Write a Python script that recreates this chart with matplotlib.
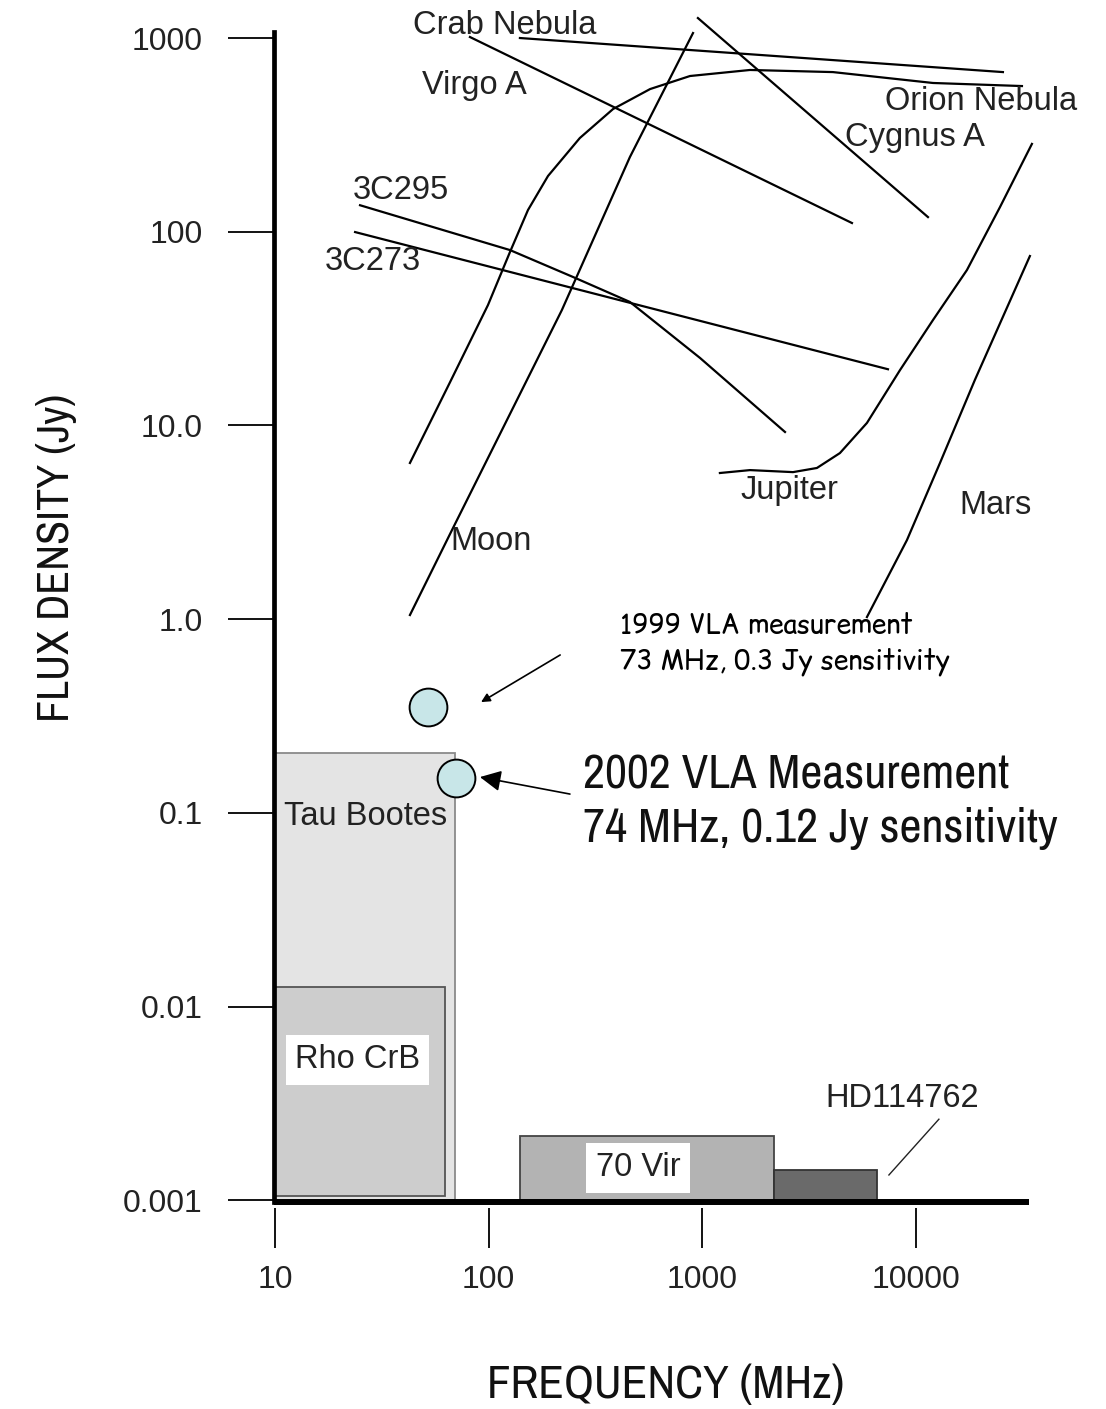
import matplotlib
matplotlib.use('Agg')
import matplotlib.pyplot as plt
from matplotlib.patches import Rectangle
from matplotlib import font_manager as fm

# ---------------- data (frequency in MHz, flux density in Jy) ----------------
orion_f = [42.8, 65.9, 99.2, 125.8, 152.7, 189.5, 267, 382, 569, 875, 1671, 4083, 12000, 31300]
orion_s = [6.40, 16.7, 41.8, 78.6, 129.4, 194, 304.6, 430, 545, 636.6, 684, 667, 586, 565]
moon_f = [42.8, 67.3, 220, 458, 904]
moon_s = [1.05, 2.88, 39.4, 243, 1061]
c295_f = [25.0, 125.8, 248, 458, 975, 2436]
c295_s = [137, 80.4, 58.4, 43.4, 22.3, 9.25]
c273_f = [23.7, 7388]
c273_s = [99.6, 19.5]
crab_f = [140, 25500]
crab_s = [1000, 667]
virgo_f = [81.7, 5012]
virgo_s = [1012, 110.9]
cyg_f = [953, 11370]
cyg_s = [1268, 119]
jup_f = [1208, 1671, 2655, 3436, 4403, 5890, 8410, 12000, 17300, 24700, 34850]
jup_s = [5.68, 5.88, 5.74, 6.03, 7.20, 10.3, 19.3, 35.0, 63.4, 134, 284]
mars_f = [5890, 9066, 12940, 18860, 34100]
mars_s = [1.025, 2.56, 6.40, 17.2, 74.9]

star_names = ['Tau Bootes', 'Rho CrB', '70 Vir', 'HD114762']
star_f0 = [10, 10, 140, 2163]
star_f1 = [69.5, 62.4, 2163, 6561]
star_s0 = [0.001, 0.00105, 0.001, 0.001]
star_s1 = [0.204, 0.0126, 0.00214, 0.00143]

vla_f = [52.0, 70.3]
vla_s = [0.351, 0.151]

xticks = [10, 100, 1000, 10000]
xticklabels = ['10', '100', '1000', '10000']
yticks = [0.001, 0.01, 0.1, 1, 10, 100, 1000]
yticklabels = ['0.001', '0.01', '0.1', '1.0', '10.0', '100', '1000']

# ---------------- fonts ----------------
names = {f.name for f in fm.fontManager.ttflist}
def pick(cands):
    for c in cands:
        if c in names:
            return c
    return 'DejaVu Sans'
SANS = pick(['Liberation Sans', 'Arimo'])
NARROW = pick(['Archivo Narrow', 'Roboto Condensed', 'IBM Plex Sans Condensed', 'Barlow Semi Condensed'])
COMIC = pick(['Comic Relief', 'Comic Neue'])
plt.rcParams['font.family'] = [SANS, 'DejaVu Sans']

fig = plt.figure(figsize=(11.06, 14.09), dpi=100)
ax = fig.add_axes([0.2473, 0.1469, 0.6835, 0.8306])
ax.set_xscale('log')
ax.set_yscale('log')
ax.set_xlim(9.84, 33940)
ax.set_ylim(0.000979, 1078)

# spines
for s in ['top', 'right', 'bottom']:
    ax.spines[s].set_visible(False)
ax.spines['left'].set_linewidth(3.4)
ax.spines['bottom'].set_position(('outward', 4.3))
ax.plot([0, 1], [0, 0], transform=ax.transAxes, color='black', lw=4.3,
        solid_capstyle='butt', clip_on=False, zorder=6)

ax.set_xticks(xticks)
ax.set_xticklabels(xticklabels)
ax.set_yticks(yticks)
ax.set_yticklabels(yticklabels)
ax.minorticks_off()
ax.tick_params(axis='y', direction='out', length=33, width=1.3, pad=18,
               labelsize=23, labelcolor='#222222')
ax.tick_params(axis='x', direction='out', length=29, width=1.3, pad=12,
               labelsize=23, labelcolor='#222222')

# star boxes
fills = ['#e4e4e4', '#cdcdcd', '#b3b3b3', '#6a6a6a']
edges = ['#8a8a8a', '#555555', '#444444', '#333333']
for f0, f1, s0, s1, fc, ec in zip(star_f0, star_f1, star_s0, star_s1, fills, edges):
    ax.add_patch(Rectangle((f0, s0), f1 - f0, s1 - s0, facecolor=fc,
                           edgecolor=ec, lw=1.3, zorder=2))

lw = 1.6
for fx, sy in [(orion_f, orion_s), (moon_f, moon_s), (c295_f, c295_s),
               (c273_f, c273_s), (crab_f, crab_s), (virgo_f, virgo_s),
               (cyg_f, cyg_s), (jup_f, jup_s), (mars_f, mars_s)]:
    ax.plot(fx, sy, color='black', lw=lw, clip_on=False, zorder=3,
            solid_joinstyle='round')

# VLA points
ax.scatter(vla_f, vla_s, s=740, facecolor='#c8e6e8', edgecolor='black',
           linewidth=1.4, zorder=5, clip_on=False)

# source labels
lab_kw = dict(fontsize=23.5, color='#222222', va='center', ha='left', family=SANS)
ax.text(44.2, 1167, 'Crab Nebula', **lab_kw)
ax.text(48.7, 572, 'Virgo A', **lab_kw)
ax.text(7145, 473, 'Orion Nebula', **lab_kw)
ax.text(4645, 308, 'Cygnus A', **lab_kw)
ax.text(23.2, 164, '3C295', **lab_kw)
ax.text(17.1, 69.8, '3C273', **lab_kw)
ax.text(1500, 4.64, 'Jupiter', **lab_kw)
ax.text(16030, 3.88, 'Mars', **lab_kw)
ax.text(65.9, 2.53, 'Moon', **lab_kw)

# star labels
star_kw = dict(fontsize=23.5, color='#222222', va='center', ha='center', family=SANS)
ax.text(26.4, 0.0960, star_names[0], zorder=4, **star_kw)
ax.text(24.4, 0.0053, star_names[1], zorder=4,
        bbox=dict(boxstyle='square,pad=0.28', facecolor='white', edgecolor='none'), **star_kw)
ax.text(500, 0.00147, star_names[2], zorder=4,
        bbox=dict(boxstyle='square,pad=0.3', facecolor='white', edgecolor='none'), **star_kw)
ax.text(8590, 0.00337, star_names[3], zorder=4, **star_kw)
ax.plot([12790, 7464], [0.00262, 0.00135], color='#222222', lw=1.0, zorder=4)

# annotations
t1999 = ax.text(411, 0.745, '1999 VLA measurement\n73 MHz, 0.3 Jy sensitivity',
                fontsize=17, family=[COMIC, 'DejaVu Sans'], color='black',
                ha='left', va='center', linespacing=1.33)
ax.annotate('', xy=(92.1, 0.373), xytext=(216, 0.653),
            arrowprops=dict(arrowstyle='-|>', color='black', lw=1.2,
                            mutation_scale=13, shrinkA=0, shrinkB=0))
t2002 = ax.text(276, 0.1137, '2002 VLA Measurement\n74 MHz, 0.12 Jy sensitivity',
                fontsize=35, family=[NARROW, SANS], color='#111111',
                ha='left', va='center', linespacing=1.3)
ax.annotate('', xy=(91.0, 0.153), xytext=(240, 0.125),
            arrowprops=dict(arrowstyle='-|>', color='black', lw=1.2,
                            mutation_scale=32, shrinkA=0, shrinkB=0))

# axis titles
tyl = fig.text(57 / 1106, 1 - 558 / 1409, 'FLUX DENSITY (Jy)', rotation=90,
               ha='center', va='center', fontsize=32, family=[NARROW, SANS],
               color='#111111')
txl = fig.text(666 / 1106, 1 - 1385 / 1409, 'FREQUENCY (MHz)',
               ha='center', va='center', fontsize=34.5, family=[NARROW, SANS],
               color='#111111')

# size the condensed / substitute-font texts to the reference extents (pixels)
fig.canvas.draw()
r = fig.canvas.get_renderer()
for t, target, use_h in [(t1999, 328, False), (t2002, 475, False),
                         (tyl, 328, True), (txl, 358, False)]:
    ext = t.get_window_extent(r)
    cur = ext.height if use_h else ext.width
    t.set_fontsize(t.get_fontsize() * target / cur)

fig.savefig('out.png', dpi=100)
